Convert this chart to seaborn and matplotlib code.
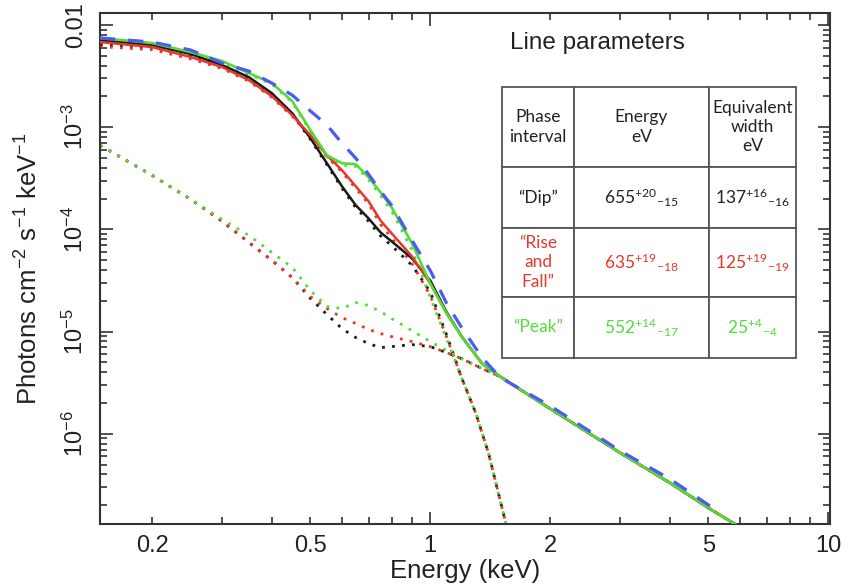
import matplotlib
matplotlib.use("Agg")
import matplotlib.pyplot as plt
import seaborn as sns
import pandas as pd
from matplotlib.ticker import FixedLocator, FixedFormatter

sns.set_style("ticks")
plt.rcParams["font.family"] = ["Liberation Sans", "DejaVu Sans"]

# ---------------- data (keV, photons cm^-2 s^-1 keV^-1) ----------------
energy = [0.148, 0.2, 0.25, 0.3, 0.35, 0.4, 0.45, 0.5, 0.55, 0.6, 0.65, 0.7,
          0.75, 0.8, 0.9, 1.0, 1.1, 1.2, 1.35, 1.5, 2.0, 3.0, 4.0, 5.0, 6.0]

blue_energy = [0.148, 0.2, 0.25, 0.3, 0.35, 0.4, 0.45, 0.5, 0.55, 0.6, 0.65, 0.7,
               0.75, 0.8, 0.9, 1.0, 1.1, 1.2, 1.35, 1.5, 2.0, 3.0, 4.0, 5.0, 5.3]
blue_total = [7.46e-3, 6.81e-3, 5.69e-3, 4.24e-3, 3.54e-3, 2.70e-3, 2.06e-3, 1.44e-3,
              1.05e-3, 6.97e-4, 4.97e-4, 3.46e-4, 2.36e-4, 1.72e-4, 7.80e-5, 3.96e-5,
              1.88e-5, 1.09e-5, 5.56e-6, 3.54e-6, 1.88e-6, 6.81e-7, 3.62e-7, 2.01e-7, 1.76e-7]

green_total = [7.46e-3, 6.66e-3, 5.43e-3, 4.44e-3, 3.38e-3, 2.70e-3, 1.80e-3, 9.35e-4,
               5.31e-4, 4.44e-4, 4.34e-4, 3.23e-4, 2.31e-4, 1.64e-4, 7.29e-5, 2.96e-5,
               1.50e-5, 8.93e-6, 4.86e-6, 3.62e-6, 1.76e-6, 6.51e-7, 3.31e-7, 1.88e-7, 1.22e-7]
red_total = [6.81e-3, 6.08e-3, 4.86e-3, 3.87e-3, 2.89e-3, 2.01e-3, 1.31e-3, 8.35e-4,
             5.31e-4, 3.79e-4, 2.64e-4, 1.88e-4, 1.22e-4, 9.14e-5, 5.43e-5, 2.96e-5,
             1.50e-5, 8.93e-6, 4.86e-6, 3.62e-6, 1.76e-6, 6.51e-7, 3.31e-7, 1.88e-7, 1.22e-7]
black_total = [7.13e-3, 6.37e-3, 5.20e-3, 4.05e-3, 3.09e-3, 2.15e-3, 1.37e-3, 7.80e-4,
               4.44e-4, 2.64e-4, 1.72e-4, 1.28e-4, 9.35e-5, 7.63e-5, 5.20e-5, 3.16e-5,
               1.54e-5, 8.93e-6, 4.86e-6, 3.62e-6, 1.76e-6, 6.51e-7, 3.31e-7, 1.88e-7, 1.22e-7]

# power law + gaussian line components (dotted)
black_pl = [6.66e-4, 3.38e-4, 1.97e-4, 1.20e-4, 7.46e-5, 4.97e-5, 3.38e-5, 2.11e-5,
            1.47e-5, 1.07e-5, 8.74e-6, 7.63e-6, 6.97e-6, 7.13e-6, 7.46e-6, 7.13e-6,
            6.22e-6, 5.43e-6, 4.34e-6, 3.62e-6, 1.76e-6, 6.51e-7, 3.31e-7, 1.88e-7, 1.22e-7]
red_pl = [6.66e-4, 3.38e-4, 1.97e-4, 1.20e-4, 7.46e-5, 4.97e-5, 3.38e-5, 2.20e-5,
          1.68e-5, 1.37e-5, 1.20e-5, 1.05e-5, 9.56e-6, 8.93e-6, 7.98e-6, 7.13e-6,
          6.22e-6, 5.43e-6, 4.34e-6, 3.62e-6, 1.76e-6, 6.51e-7, 3.31e-7, 1.88e-7, 1.22e-7]
green_pl = [6.66e-4, 3.38e-4, 1.97e-4, 1.25e-4, 8.74e-5, 5.95e-5, 4.24e-5, 2.52e-5,
            1.76e-5, 1.68e-5, 1.92e-5, 1.80e-5, 1.57e-5, 1.34e-5, 1.02e-5, 7.98e-6,
            6.51e-6, 5.43e-6, 4.34e-6, 3.62e-6, 1.76e-6, 6.51e-7, 3.31e-7, 1.88e-7, 1.22e-7]

# soft thermal components (dotted)
soft_energy = [0.148, 0.2, 0.25, 0.3, 0.35, 0.4, 0.45, 0.5, 0.55, 0.6, 0.65, 0.7,
               0.75, 0.8, 0.9, 1.0, 1.1, 1.2, 1.3, 1.4, 1.5, 1.55, 1.6]
black_soft = [6.46e-3, 6.03e-3, 5.00e-3, 3.93e-3, 3.02e-3, 2.10e-3, 1.34e-3, 7.59e-4,
              4.29e-4, 2.53e-4, 1.63e-4, 1.20e-4, 8.65e-5, 6.92e-5, 4.45e-5, 2.45e-5,
              9.2e-6, 3.5e-6, 1.61e-6, 6.51e-7, 2.20e-7, 1.31e-7, 7.98e-8]
red_soft = [6.14e-3, 5.74e-3, 4.66e-3, 3.75e-3, 2.82e-3, 1.96e-3, 1.28e-3, 8.13e-4,
            5.14e-4, 3.65e-4, 2.52e-4, 1.78e-4, 1.12e-4, 8.25e-5, 4.63e-5, 2.25e-5,
            8.8e-6, 3.5e-6, 1.61e-6, 6.51e-7, 2.20e-7, 1.31e-7, 7.98e-8]
green_soft = [6.79e-3, 6.32e-3, 5.23e-3, 4.32e-3, 3.29e-3, 2.64e-3, 1.76e-3, 9.10e-4,
              5.13e-4, 4.27e-4, 4.15e-4, 3.05e-4, 2.15e-4, 1.51e-4, 6.27e-5, 2.16e-5,
              8.5e-6, 3.5e-6, 1.61e-6, 6.51e-7, 2.20e-7, 1.31e-7, 7.98e-8]

# table values
table_header = ["Phase\ninterval", "Energy\neV", "Equivalent\nwidth\neV"]
phase_names = ["\u201cDip\u201d", "\u201cRise\nand\nFall\u201d", "\u201cPeak\u201d"]
line_energy = [655, 635, 552]
line_energy_plus = [20, 19, 14]
line_energy_minus = [15, 18, 17]
eq_width = [137, 125, 25]
eq_width_plus = [16, 19, 4]
eq_width_minus = [16, 19, 4]

x_major = [1, 10]
x_major_labels = ["1", "10"]
x_minor = [0.2, 0.3, 0.4, 0.5, 0.6, 0.7, 0.8, 0.9, 2, 3, 4, 5, 6, 7, 8, 9]
x_minor_labels = ["0.2", "", "", "0.5", "", "", "", "", "2", "", "", "5", "", "", "", ""]
y_major = [1e-6, 1e-5, 1e-4, 1e-3, 1e-2]
y_major_labels = [r"$\mathregular{10^{-6}}$", r"$\mathregular{10^{-5}}$",
                  r"$\mathregular{10^{-4}}$", r"$\mathregular{10^{-3}}$", "0.01"]

# ---------------- colours ----------------
C_BLACK = "#1a1a1a"
C_RED = "#e6382b"
C_GREEN = "#52dc3a"
C_BLUE = "#4a5cf2"

fig = plt.figure(figsize=(8.55, 5.87), dpi=100)
fig.patch.set_facecolor("white")
ax = fig.add_axes([100 / 855, 63 / 587, 730 / 855, 511 / 587])
ax.set_xscale("log")
ax.set_yscale("log")

DOT = (0, (1, 2.6))


def draw(x, y, color, ls, lw, z):
    df = pd.DataFrame({"E": x, "F": y})
    sns.lineplot(data=df, x="E", y="F", ax=ax, color=color, linestyle=ls,
                 linewidth=lw, zorder=z, estimator=None, sort=False, errorbar=None)


# dotted components
draw(soft_energy, black_soft, C_BLACK, DOT, 2.0, 2)
draw(soft_energy, red_soft, C_RED, DOT, 2.0, 2.1)
draw(soft_energy, green_soft, C_GREEN, DOT, 2.0, 2.2)
draw(energy, black_pl, C_BLACK, DOT, 2.0, 2)
draw(energy, red_pl, C_RED, DOT, 2.0, 2.1)
draw(energy, green_pl, C_GREEN, DOT, 2.0, 2.2)

# totals
draw(energy, black_total, C_BLACK, "-", 1.8, 3)
draw(energy, red_total, C_RED, "-", 1.8, 3.1)
draw(energy, green_total, C_GREEN, "-", 1.9, 3.2)
draw(blue_energy, blue_total, C_BLUE, (0, (4.8, 4.0)), 2.3, 3.5)

ax.set_xlim(0.148, 10.1)
ax.set_ylim(1.31e-7, 1.31e-2)

# ticks
ax.xaxis.set_major_locator(FixedLocator(x_major))
ax.xaxis.set_major_formatter(FixedFormatter(x_major_labels))
ax.xaxis.set_minor_locator(FixedLocator(x_minor))
ax.xaxis.set_minor_formatter(FixedFormatter(x_minor_labels))

y_minor = [m * 10.0 ** e for e in range(-7, -2) for m in range(2, 10)]
ax.yaxis.set_major_locator(FixedLocator(y_major))
ax.yaxis.set_major_formatter(FixedFormatter(y_major_labels))
ax.yaxis.set_minor_locator(FixedLocator(y_minor))
ax.yaxis.set_minor_formatter(FixedFormatter([""] * len(y_minor)))

ax.tick_params(which="both", direction="in", top=True, right=True,
               colors="#333333", labelcolor="#222222", width=1.2, labelsize=17)
ax.tick_params(which="major", length=9)
ax.tick_params(which="minor", length=5)
ax.tick_params(axis="x", which="both", pad=8)
ax.tick_params(axis="y", which="both", pad=9)
for lab in ax.get_yticklabels():
    lab.set_rotation(90)
    lab.set_va("center")

for s in ax.spines.values():
    s.set_color("#333333")
    s.set_linewidth(1.5)

ax.set_xlabel("Energy (keV)", fontsize=18.5, color="#222222")
ax.set_ylabel(r"Photons cm$\mathregular{^{-2}}$ s$\mathregular{^{-1}}$ keV$\mathregular{^{-1}}$",
              fontsize=18.5, color="#222222")
ax.xaxis.set_label_coords(0.5, -0.068)
ax.yaxis.set_label_coords(-0.078, 0.5)

# ---------------- table ----------------
ax.text(0.6815, 0.9295, "Line parameters", transform=ax.transAxes, ha="center",
        va="baseline", fontsize=17.5, color="#222222")

rows = [table_header]
for i in range(3):
    rows.append([
        phase_names[i],
        r"$\mathregular{%d^{+%d}{}_{-%d}}$" % (line_energy[i], line_energy_plus[i], line_energy_minus[i]),
        r"$\mathregular{%d^{+%d}{}_{-%d}}$" % (eq_width[i], eq_width_plus[i], eq_width_minus[i]),
    ])
row_colors = ["#222222", "#222222", C_RED, C_GREEN]
col_w = [72, 135, 87]
row_h = [80, 61, 69, 61]

tbl = ax.table(cellText=rows, cellLoc="center",
               bbox=[0.5507, 0.3249, 0.4027, 0.5303], zorder=6)
tbl.auto_set_font_size(False)
for (r, c), cell in tbl.get_celld().items():
    cell.set_width(col_w[c] / 1000)
    cell.set_height(row_h[r] / 1000)
    cell.set_edgecolor("#555555")
    cell.set_linewidth(1.3)
    cell.set_facecolor("white")
    t = cell.get_text()
    t.set_fontfamily(["Lato", "DejaVu Sans"])
    t.set_fontsize(12.5)
    t.set_color(row_colors[r])
    t.set_linespacing(1.25)

fig.savefig("out.png", dpi=100, facecolor="white")
